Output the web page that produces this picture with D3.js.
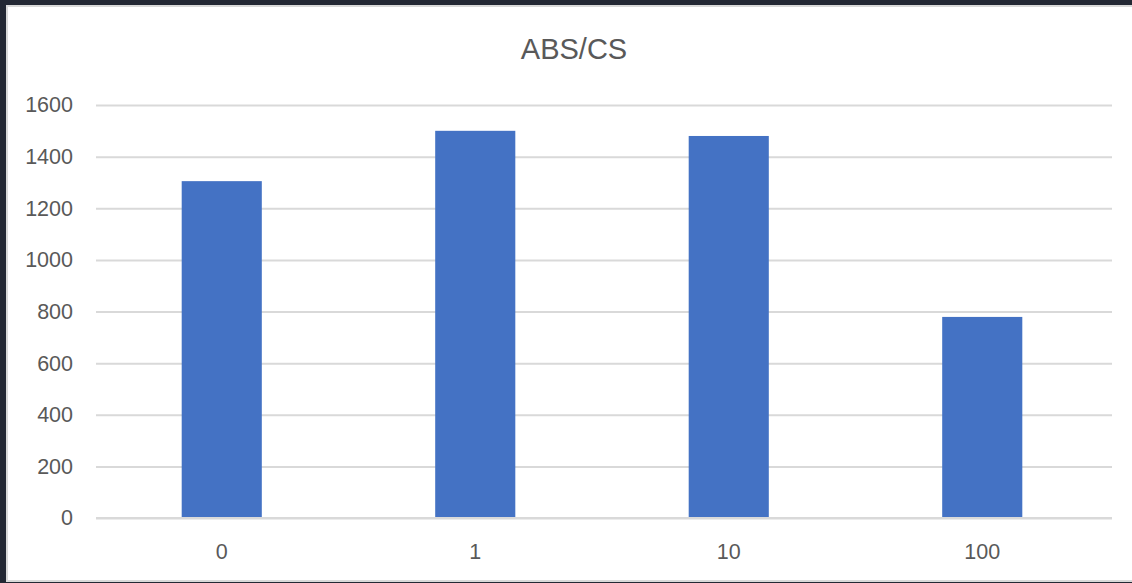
<!DOCTYPE html>
<html>
<head>
<meta charset="utf-8">
<script src="https://cdn.jsdelivr.net/npm/d3@7"></script>
<style>
  html, body { margin: 0; padding: 0; background: #232834; }
  svg { display: block; }
</style>
</head>
<body>
<svg id="chart" width="1132" height="583"></svg>
<script>
// Chart data
const categories = ["0", "1", "10", "100"];
const values = [1305, 1500, 1480, 779];
const yTicks = [0, 200, 400, 600, 800, 1000, 1200, 1400, 1600];
const title = "ABS/CS";

const svg = d3.select("#chart");
const W = 1132, H = 583;

// outer dark backdrop and white chart panel with light border
svg.append("rect").attr("width", W).attr("height", H).attr("fill", "#232834");
svg.append("rect")
  .attr("x", 7).attr("y", 6).attr("width", W).attr("height", 575)
  .attr("fill", "#ffffff").attr("stroke", "#d9d9d9").attr("stroke-width", 2);

const plot = { left: 96, right: 1112, top: 105, bottom: 518 };

const x = d3.scaleBand()
  .domain(categories)
  .range([95, 1109])
  .paddingInner(0.684)
  .paddingOuter(0.342);

const y = d3.scaleLinear().domain([0, 1600]).range([plot.bottom, plot.top]);

const font = "'Liberation Sans', Arial, sans-serif";

// horizontal gridlines
const yAxis = d3.axisLeft(y)
  .tickValues(yTicks)
  .tickSize(-(plot.right - plot.left))
  .tickPadding(23)
  .tickFormat(d3.format("d"));

const gy = svg.append("g")
  .attr("transform", `translate(${plot.left},0)`)
  .call(yAxis);
gy.select(".domain").remove();
gy.selectAll(".tick line").attr("stroke", "#d9d9d9").attr("stroke-width", 2);
gy.selectAll(".tick text")
  .attr("fill", "#595959")
  .style("font-family", font)
  .style("font-size", "21.5px");

// bars
svg.append("g").selectAll("rect")
  .data(values)
  .join("rect")
  .attr("x", (d, i) => x(categories[i]))
  .attr("y", d => y(d))
  .attr("width", x.bandwidth())
  .attr("height", d => y(0) - y(d))
  .attr("fill", "#4472c4");

// category axis
const xAxis = d3.axisBottom(x).tickSize(0).tickPadding(26);
const gx = svg.append("g")
  .attr("transform", `translate(0,${plot.bottom})`)
  .call(xAxis);
gx.select(".domain").remove();
gx.selectAll(".tick text")
  .attr("fill", "#595959")
  .style("font-family", font)
  .style("font-size", "21.5px");

// baseline
svg.append("line")
  .attr("x1", plot.left).attr("x2", plot.right)
  .attr("y1", plot.bottom).attr("y2", plot.bottom)
  .attr("stroke", "#d9d9d9").attr("stroke-width", 2);

// title
svg.append("text")
  .attr("x", 574).attr("y", 59)
  .attr("text-anchor", "middle")
  .attr("fill", "#595959")
  .style("font-family", font)
  .style("font-size", "29px")
  .text(title);
</script>
</body>
</html>
